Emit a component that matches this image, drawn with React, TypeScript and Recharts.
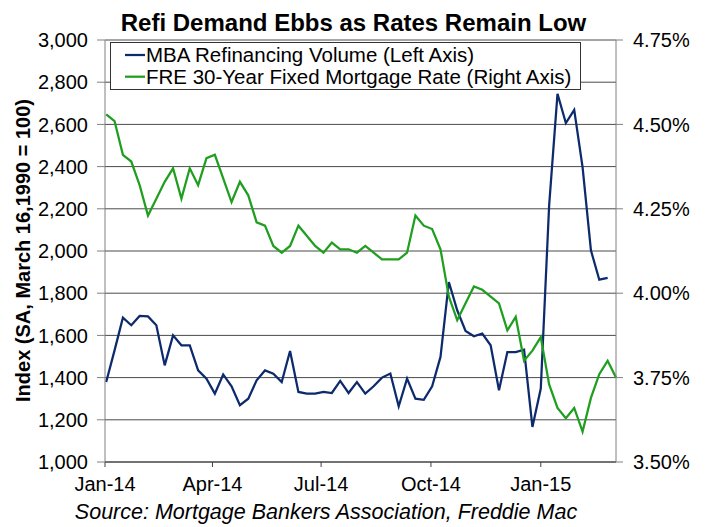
import { CartesianGrid, Line, LineChart, XAxis, YAxis } from "recharts";

// MBA refinance index, weekly from Jan 2 2014 (SA, 3/16/1990 = 100)
const refiVolume = [
  1379, 1529, 1684, 1648, 1692, 1690, 1648, 1458, 1600, 1553, 1553, 1434, 1395, 1324, 1415, 1359,
  1269, 1300, 1387, 1434, 1419, 1379, 1526, 1332, 1324, 1324, 1332, 1327, 1384, 1327, 1379, 1324,
  1359, 1400, 1419, 1264, 1395, 1300, 1295, 1359, 1498, 1853, 1719, 1621, 1596, 1609, 1553, 1340,
  1521, 1521, 1532, 1166, 1348, 2216, 2745, 2606, 2669, 2398, 2003, 1864, 1873,
];

// Freddie Mac 30-year fixed rate, %, same weeks
const mortgageRate = [
  4.53, 4.51, 4.41, 4.39, 4.32, 4.23, 4.28, 4.33, 4.37, 4.28, 4.37, 4.32, 4.4, 4.41, 4.34, 4.27,
  4.33, 4.29, 4.21, 4.2, 4.14, 4.12, 4.14, 4.2, 4.17, 4.14, 4.12, 4.15, 4.13, 4.13, 4.12, 4.14,
  4.12, 4.1, 4.1, 4.1, 4.12, 4.23, 4.2, 4.19, 4.13, 3.99, 3.92, 3.97, 4.02, 4.01, 3.99, 3.97,
  3.89, 3.93, 3.8, 3.83, 3.87, 3.73, 3.66, 3.63, 3.66, 3.59, 3.69, 3.76, 3.8, 3.75,
];

// days counted from Jan 1 2014
const tickDays = [0, 90, 181, 273, 365];
const tickLabels = ["Jan-14", "Apr-14", "Jul-14", "Oct-14", "Jan-15"];
const leftTicks = [1000, 1200, 1400, 1600, 1800, 2000, 2200, 2400, 2600, 2800, 3000];
const rightTicks = [3.5, 3.75, 4, 4.25, 4.5, 4.75];

const firstDay = 1; // Jan 2 2014
const data = mortgageRate.map((rate, i) => ({
  day: firstDay + i * 7,
  refi: i < refiVolume.length ? refiVolume[i] : null,
  rate,
}));
const lastDay = data[data.length - 1].day;

const BLUE = "#0c2a6c";
const GREEN = "#1f9e1f";
const FONT = "'Liberation Sans', Arial, sans-serif";

export default function App() {
  const tick = { fill: "#000", fontSize: 20 };
  return (
    <div
      style={{
        position: "absolute",
        left: 0,
        top: 0,
        width: 707,
        height: 527,
        background: "#fff",
        fontFamily: FONT,
      }}
    >
      <LineChart width={707} height={527} data={data} margin={{ top: 40, right: 0, bottom: 0, left: 0 }}>
        <CartesianGrid yAxisId="left" vertical={false} stroke="#4a4a4a" />
        <XAxis
          dataKey="day"
          type="number"
          domain={[0, lastDay]}
          ticks={tickDays}
          interval={0}
          tickFormatter={(v) => tickLabels[tickDays.indexOf(v)] ?? ""}
          height={65}
          tickSize={5}
          tickMargin={10}
          tick={tick}
          axisLine={{ stroke: "#404040" }}
          tickLine={{ stroke: "#404040" }}
        />
        <YAxis
          yAxisId="left"
          domain={[1000, 3000]}
          ticks={leftTicks}
          interval={0}
          tickFormatter={(v) => Number(v).toLocaleString("en-US")}
          width={105}
          tickSize={8}
          tickMargin={9}
          tick={tick}
          axisLine={{ stroke: "#808080" }}
          tickLine={{ stroke: "#808080" }}
        />
        <YAxis
          yAxisId="right"
          orientation="right"
          domain={[3.5, 4.75]}
          ticks={rightTicks}
          interval={0}
          tickFormatter={(v) => Number(v).toFixed(2) + "%"}
          width={91}
          tickSize={7}
          tickMargin={10}
          tick={tick}
          axisLine={{ stroke: "#808080" }}
          tickLine={{ stroke: "#808080" }}
        />
        <Line
          yAxisId="left"
          type="linear"
          dataKey="refi"
          stroke={BLUE}
          strokeWidth={2.25}
          dot={false}
          isAnimationActive={false}
        />
        <Line
          yAxisId="right"
          type="linear"
          dataKey="rate"
          stroke={GREEN}
          strokeWidth={2.25}
          dot={false}
          isAnimationActive={false}
        />
      </LineChart>
      <svg
        width={707}
        height={527}
        style={{ position: "absolute", left: 0, top: 0, pointerEvents: "none", fontFamily: FONT }}
      >
        <text x={353.5} y={31} textAnchor="middle" fontSize={24} fontWeight="bold" fill="#000">
          Refi Demand Ebbs as Rates Remain Low
        </text>
        <text
          transform="translate(30,250.5) rotate(-90)"
          textAnchor="middle"
          fontSize={20}
          fontWeight="bold"
          fill="#000"
        >
          Index (SA, March 16,1990 = 100)
        </text>
        <text x={326} y={519} textAnchor="middle" fontSize={21.5} fontStyle="italic" fill="#000">
          Source: Mortgage Bankers Association, Freddie Mac
        </text>
        <rect x={110.5} y={42.5} width={470} height={47} fill="#fff" stroke="#333" />
        <line x1={125} x2={145} y1={55} y2={55} stroke={BLUE} strokeWidth={2.25} />
        <text x={146} y={61.5} fontSize={20.5} fill="#000">
          MBA Refinancing Volume (Left Axis)
        </text>
        <line x1={125} x2={145} y1={76.7} y2={76.7} stroke={GREEN} strokeWidth={2.25} />
        <text x={146} y={83.5} fontSize={20.5} fill="#000">
          FRE 30-Year Fixed Mortgage Rate (Right Axis)
        </text>
      </svg>
    </div>
  );
}
